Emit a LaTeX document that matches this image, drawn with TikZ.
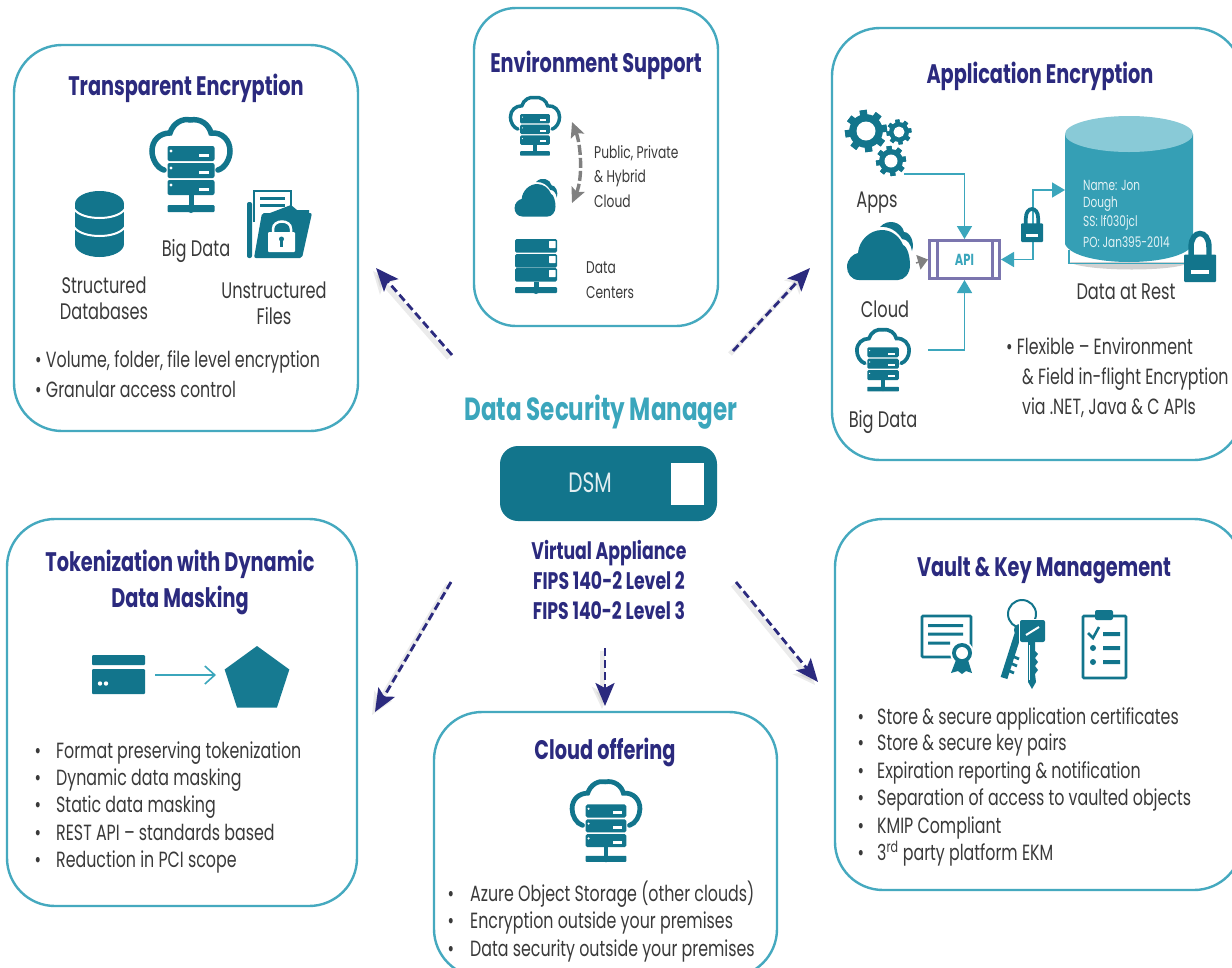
\documentclass[tikz,border=0pt]{standalone}
\usepackage{fontspec}
\usetikzlibrary{arrows.meta,shapes.geometric,calc}
\setmainfont[FakeStretch=0.72]{Poppins}
\definecolor{navy}{HTML}{2B2A7E}
\definecolor{teal1}{HTML}{12758C}
\definecolor{teal2}{HTML}{3BA6BC}
\definecolor{border}{HTML}{45A9BF}
\definecolor{txtc}{HTML}{3A3A3A}
\definecolor{apip}{HTML}{7B75AE}
\tikzset{
 panel/.style={draw=border,line width=2.4pt,rounded corners=48pt,fill=white,inner sep=0pt},
 titletxt/.style={font=\fontsize{26.8}{26.8}\selectfont\bfseries,text=navy,inner sep=0pt,text height=20pt,text depth=0pt},
 lab/.style={font=\fontsize{22.5}{22.5}\selectfont,text=txtc,inner sep=0pt,text height=16pt,text depth=0pt},
 labs/.style={font=\fontsize{17}{17}\selectfont,text=txtc,inner sep=0pt,text height=12pt,text depth=0pt},
 item/.style={font=\fontsize{22}{22}\selectfont,text=txtc,inner sep=0pt,text height=15pt,text depth=0pt},
 cyltxt/.style={font=\fontsize{14.6}{14.6}\selectfont,text=white!85!teal2,anchor=west,inner sep=0pt},
 vtxt/.style={font=\fontsize{24}{24}\selectfont\bfseries,text=navy,inner sep=0pt,text height=16pt,text depth=0pt},
 dsarrow/.style={draw=navy,line width=2.8pt,dash pattern=on 8pt off 4pt,-{Stealth[length=23pt,width=19pt,inset=5pt]}},
 dsshadow/.style={draw=black,opacity=.08,line width=5pt,-{Stealth[length=22pt,width=20pt,inset=5pt]},transform canvas={xshift=-3pt,yshift=-3pt}},
 tline/.style={draw=teal2,line width=1.6pt},
 ttip/.style={-{Triangle[length=13pt,width=15pt]}},
}
% cloud with server rack
\newcommand{\cloudserver}[3]{%
\begin{scope}[shift={(#1,#2)},scale=#3]
\draw[teal1,line width=#3*5.5pt,line cap=round] (-27,5) .. controls (-34,3) and (-39,-6) .. (-39,-14) .. controls (-39,-25) and (-31,-32) .. (-21,-32) .. controls (-18,-42) and (-8,-47) .. (-1,-45) .. controls (10,-47) and (18,-40) .. (20,-32) .. controls (31,-33) and (39,-25) .. (39,-14) .. controls (39,-6) and (34,3) .. (27,5);
\foreach \yy in {-19,-2,15}{
 \fill[teal1,rounded corners=#3*2pt] (-23.5,\yy) rectangle (23.5,\yy+15);
 \fill[white] (-20,\yy+5) circle (#3*1.6pt);
 \fill[white] (8,\yy+8) rectangle (18,\yy+11);
}
\fill[teal1] (-2.5,30) rectangle (2.5,42);
\fill[teal1,rounded corners=#3*1pt] (-23.5,40) rectangle (23.5,47);
\fill[teal1] (0,43.5) circle (#3*4.5pt);
\end{scope}}
% solid cloud
\newcommand{\solidcloud}[3]{%
\begin{scope}[shift={(#1,#2)},scale=#3]
\fill[teal1] (-21,30) .. controls (-29,30) and (-33,23) .. (-33,17) .. controls (-33,9) and (-27,4) .. (-22,3) .. controls (-21,-10) and (-10,-20) .. (2,-20) .. controls (12,-20) and (20,-13) .. (23,-5) .. controls (28,-3) and (30,8) .. (30,15) .. controls (30,24) and (24,30) .. (18,30) -- cycle;
\fill[teal1] (0,-23) .. controls (8,-32) and (22,-28) .. (24,-18) .. controls (30,-18) and (35,-8) .. (32,1) .. controls (31,-6) and (27,-11) .. (22,-11) .. controls (18,-18) and (10,-24) .. (0,-23) -- cycle;
\end{scope}}
% gear
\newcommand{\geartk}[5]{%
\fill[teal1] (#1,#2) circle (#3*.8pt);
\foreach \a in {0,45,...,315}{
 \fill[teal1,shift={(#1,#2)},rotate=\a+#5] (-#3*.17,-#3) rectangle (#3*.17,#3);
}
\fill[white] (#1,#2) circle (#4 pt);
}
% padlock
\newcommand{\padlock}[5]{% x1 y1 x2 y2, slot bottom as fraction
\pgfmathsetmacro{\lw}{#3-#1}\pgfmathsetmacro{\lh}{#4-#2}
\draw[teal1,line width=\lw*.17 pt] (#1+\lw*.22,#2+\lh*.5) -- (#1+\lw*.22,#2+\lh*.3) .. controls (#1+\lw*.22,#2-\lh*.06) and (#3-\lw*.22,#2-\lh*.06) .. (#3-\lw*.22,#2+\lh*.3) -- (#3-\lw*.22,#2+\lh*.5);
\fill[teal1,rounded corners=1pt] (#1,#2+\lh*.45) rectangle (#3,#4);
\fill[white] (#1+\lw*.22,#2+\lh*.76) rectangle (#3-\lw*.22,#2+\lh*#5);
}
\begin{document}
\begin{tikzpicture}[x=1pt,y=-1pt]
\clip (0,0) rectangle (1232,967);
\fill[white] (0,0) rectangle (1232,967);

% panels
\node[panel,minimum width=344pt,minimum height=386pt] (te) at (186,238) {};
\node[panel,minimum width=244pt,minimum height=318pt,rounded corners=42pt] (env) at (596,167) {};
\node[panel,minimum width=410pt,minimum height=432pt] (app) at (1037,244) {};
\node[panel,minimum width=350pt,minimum height=387pt] (tok) at (182,712.5) {};
\node[panel,minimum width=343pt,minimum height=265pt] (cloudp) at (605.5,844.5) {};
\node[panel,minimum width=407pt,minimum height=371pt] (vault) at (1038.5,704.5) {};

% arrows
\coordinate (a1s) at (452,355); \coordinate (a1e) at (376,268);
\coordinate (a2s) at (733,351); \coordinate (a2e) at (810,268);
\coordinate (a3s) at (451,582); \coordinate (a3e) at (375,712);
\coordinate (a4s) at (605,648); \coordinate (a4e) at (605,706);
\coordinate (a5s) at (736,582); \coordinate (a5e) at (818,682);
\foreach \s/\e in {a1s/a1e,a2s/a2e,a3s/a3e,a4s/a4e,a5s/a5e}{
 \draw[dsshadow] (\s) -- (\e);
 \draw[dsarrow] (\s) -- (\e);
}

% centre
\node[font=\fontsize{32}{32}\selectfont\bfseries,text=teal2,inner sep=0pt] (dsmt) at (601,412) {Data Security Manager};
\node[fill=teal1,rounded corners=18pt,minimum width=217pt,minimum height=75pt,inner sep=0pt] (dsm) at (608.5,483.5) {};
\node[fill=white,minimum width=33pt,minimum height=42pt,inner sep=0pt] (dsmsq) at (687.5,484) {};
\node[font=\fontsize{28}{28}\selectfont,text=white!88!teal1,inner sep=0pt] (dsml) at (590,483) {DSM};
\node[vtxt] (v1) at (609,551) {Virtual Appliance};
\node[vtxt] (v2) at (609,581) {FIPS 140-2 Level 2};
\node[vtxt] (v3) at (609,611) {FIPS 140-2 Level 3};

% ---- Transparent Encryption
\node[titletxt] (t1) at (186,85) {Transparent Encryption};
\cloudserver{191}{165}{1}
% database
\fill[teal1] (75,204) rectangle (124,244);
\fill[teal1] (99.5,204) ellipse (24.5pt and 13pt);
\fill[teal1] (99.5,244) ellipse (24.5pt and 13pt);
\draw[white,line width=2pt] (74,209) .. controls (82,221) and (117,221) .. (125,209);
\draw[white,line width=2pt] (74,227) .. controls (82,239) and (117,239) .. (125,227);
% folder
\fill[teal1,rounded corners=2pt] (247,202) -- (252,202) -- (252,258) -- (247,258) -- cycle;
\draw[teal1,line width=1.6pt] (254,222) -- (254,191) -- (291,191) -- (291,208);
\fill[teal1] (260,197) rectangle (285,200);
\fill[teal1] (260,204) rectangle (285,207);
\fill[teal1] (291,205) -- (297,210) -- (309,210) -- (309,213) -- (270,213) -- cycle;
\fill[teal1,rounded corners=2pt] (262,213) -- (312,213) -- (302,258) -- (254,258) -- cycle;
\draw[white,line width=2.5pt] (273,234) -- (273,229) .. controls (273,219) and (291,219) .. (291,229) -- (291,234);
\fill[white,rounded corners=1pt] (268,232) rectangle (295,252);
\fill[teal1] (281.5,239) circle (2.5pt);
\fill[teal1] (280,240) rectangle (283,247);
\node[lab] (t2) at (196,248) {Big Data};
\node[lab] (t3) at (104,285) {Structured};
\node[lab] (t4) at (104,311) {Databases};
\node[lab] (t5) at (274,290) {Unstructured};
\node[lab] (t6) at (274,316) {Files};
\node[item,anchor=west] (t7) at (35,360) {• Volume, folder, file level encryption};
\node[item,anchor=west] (t8) at (35,390) {• Granular access control};

% ---- Environment Support
\node[titletxt] (e1) at (596,62) {Environment Support};
\cloudserver{535}{126}{.63}
\solidcloud{536}{197}{.65}
\foreach \yy in {239,254,268}{
 \fill[teal1,rounded corners=1.5pt] (515,\yy) rectangle (557,\yy+13.5);
 \fill[white,rounded corners=.5pt] (549,\yy+2) rectangle (555.5,\yy+9);
}
\fill[teal1] (533.5,282) rectangle (538.5,289);
\fill[teal1,rounded corners=1pt] (515,287) rectangle (557,293);
\fill[teal1] (536,290) circle (4pt);
\coordinate (g1) at (572,122); \coordinate (g2) at (572,203);
\draw[draw=black!50,line width=3.4pt,dash pattern=on 10pt off 3pt,{Stealth[length=15pt,width=14pt,inset=3pt]}-{Stealth[length=15pt,width=14pt,inset=3pt]}] (g1) .. controls (581,145) and (583,178) .. (g2);
\node[labs,anchor=west] (e2) at (594,152) {Public, Private};
\node[labs,anchor=west] (e3) at (594,176) {\& Hybrid};
\node[labs,anchor=west] (e4) at (594,201) {Cloud};
\node[labs,anchor=west] (e5) at (586,267) {Data};
\node[labs,anchor=west] (e6) at (586,292) {Centers};

% ---- Application Encryption
\node[titletxt] (p1) at (1040,73) {Application Encryption};
\geartk{866}{131}{21}{9.5}{8}{22}
\geartk{899}{132}{12.5}{5.5}{8}{0}
\geartk{891}{161}{15}{6.5}{8}{10}
\solidcloud{880}{250}{1}
\cloudserver{883}{360}{.67}
% cylinder
\fill[black,opacity=.18] (1069,262) -- (1190,262) .. controls (1180,272) and (1085,272) .. (1069,262) -- cycle;
\draw[tline] (1069,250) -- (1069,263.5) -- (1190,263.5);
\fill[teal2!85!teal1] (1065,134) -- (1065,244) .. controls (1075,268) and (1183,268) .. (1193,244) -- (1193,134) -- cycle;
\fill[teal2!60!white] (1129,134) ellipse (64pt and 18pt);
\node[cyltxt] (c1) at (1083,185) {Name: Jon};
\node[cyltxt] (c2) at (1083,204) {Dough};
\node[cyltxt] (c3) at (1083,223) {SS: lf030jcl};
\node[cyltxt] (c4) at (1083,242) {PO: Jan395-2014};
\padlock{1184}{232}{1216}{282}{.84}
% API
\node[draw=apip,line width=3pt,minimum width=70pt,minimum height=38pt,inner sep=0pt,font=\fontsize{16}{16}\selectfont\bfseries,text=teal2] (api) at (964.5,259.5) {API};
\draw[apip,line width=3pt] (937.5,241) -- (937.5,278) (992.5,241) -- (992.5,278);
\coordinate (gearout) at (904,174);
\coordinate (bigout) at (928,350);
\coordinate (cloudout) at (916,263);
\coordinate (cylin) at (1065,190);
\coordinate (bend) at (1033,225);
\draw[tline,ttip] (gearout) -| (api.north);
\draw[tline,ttip] (bigout) -| (api.south);
\draw[tline,{Triangle[length=13pt,width=15pt]}-{Triangle[length=13pt,width=15pt]}] (api.east) -| (bend) |- (cylin);
\draw[draw=black!50,line width=1.5pt,-{Triangle[length=10pt,width=15pt]}] (cloudout) -- (api.west);
\padlock{1021}{208}{1043}{242}{.85}
\node[lab] (p2) at (877,199) {Apps};
\node[lab] (p3) at (885,309) {Cloud};
\node[lab] (p4) at (883,419) {Big Data};
\node[lab] (p5) at (1126,291) {Data at Rest};
\node[item,anchor=west] (p6) at (1006,347) {• Flexible – Environment};
\node[item,anchor=west] (p7) at (1022,377) {\& Field in-flight Encryption};
\node[item,anchor=west] (p8) at (1022,407) {via .NET, Java \& C APIs};

% ---- Tokenization
\node[titletxt] (k1) at (180,561) {Tokenization with Dynamic};
\node[titletxt] (k2) at (180,597) {Data Masking};
\fill[teal1,rounded corners=1pt] (92,655) rectangle (145,665);
\fill[teal1,rounded corners=1pt] (92,669) rectangle (145,694);
\fill[white] (100,683.5) circle (2.2pt) (106,683.5) circle (2.2pt);
\coordinate (cardout) at (155,675); \coordinate (pentin) at (216,675);
\draw[draw=teal2,line width=1.6pt,-{Straight Barb[length=10pt,width=18pt]}] (cardout) -- (pentin);
\node[regular polygon,regular polygon sides=5,fill=teal1!90!teal2,minimum size=68pt,inner sep=0pt] (pent) at (257,680) {};
\foreach \nm/\yy/\tx in {k3/751/Format preserving tokenization,k4/778/Dynamic data masking,k5/805/Static data masking,k6/833/REST API – standards based,k7/860/Reduction in PCI scope}{
 \node[item,anchor=west] (\nm) at (56,\yy) {\tx};
 \node[item] (\nm b) at (38,\yy) {•};
}

% ---- Cloud offering
\node[titletxt] (o1) at (605,749) {Cloud offering};
\cloudserver{606}{821}{.87}
\foreach \nm/\yy/\tx in {o2/894/Azure Object Storage (other clouds),o3/921/Encryption outside your premises,o4/949/Data security outside your premises}{
 \node[item,anchor=west] (\nm) at (470,\yy) {\tx};
 \node[item] (\nm b) at (451,\yy) {•};
}

% ---- Vault
\node[titletxt] (q1) at (1044,566) {Vault \& Key Management};
% certificate
\draw[teal1,line width=2.6pt,rounded corners=1pt] (922,616) rectangle (971,657);
\fill[teal1] (928,624) rectangle (963,627) (928,632.5) rectangle (963,635.5) (928,641.5) rectangle (950,644.5);
\fill[white] (962,653) circle (12pt);
\fill[teal1] (956,660) -- (951,673) -- (958,671) -- (962,674) -- (966,671) -- (972,673) -- (968,660) -- cycle;
\fill[teal1] (962,653) circle (10pt);
\fill[white] (962,653) circle (6pt);
% keys
\draw[teal1,line width=2pt] (1022,614) circle (14pt);
\draw[teal1,line width=7pt] (1018,634) -- (1004,678);
\fill[teal1] (1020,630) circle (6pt);
\draw[teal1,line width=2.8pt] (1007,670) -- (1014,673) (1010,663) -- (1017,666) (1012,656) -- (1019,659);
\fill[white] (1019,619) rectangle (1046,644);
\fill[teal1,rounded corners=2pt] (1020,620) rectangle (1045,642);
\draw[white,line width=2pt] (1026,635) -- (1039,627);
\fill[teal1] (1028,640) -- (1035,640) -- (1035,651) -- (1038,654) -- (1035,658) -- (1038,662) -- (1035,666) -- (1038,670) -- (1035,674) -- (1036,682) -- (1032,689) -- (1028,682) -- cycle;
\draw[white,line width=1pt] (1029.5,645) -- (1029.5,680);
% clipboard
\draw[teal1,line width=2.6pt,rounded corners=1pt] (1083,616) rectangle (1126,678);
\fill[teal1,rounded corners=2pt] (1095,610) rectangle (1113,620);
\draw[teal1,line width=2.6pt] (1088,633) -- (1093,638) -- (1099,627);
\fill[teal1] (1103,632) rectangle (1120,636) (1103,646) rectangle (1120,650) (1103,660) rectangle (1120,664);
\fill[teal1] (1093,648) circle (3pt) (1093,662) circle (3pt);
\foreach \nm/\yy/\tx in {q2/717/Store \& secure application certificates,q3/743/Store \& secure key pairs,q4/771/Expiration reporting \& notification,q5/798/Separation of access to vaulted objects,q6/826/KMIP Compliant,q7/853/3\textsuperscript{rd} party platform EKM}{
 \node[item,anchor=west] (\nm) at (877,\yy) {\tx};
 \node[item] (\nm b) at (861,\yy) {•};
}
\end{tikzpicture}
\end{document}
